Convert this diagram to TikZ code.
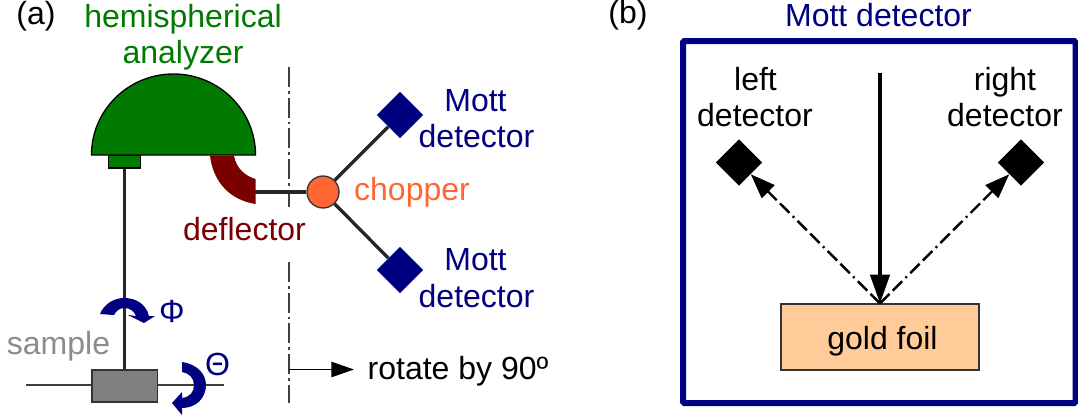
\documentclass[tikz,border=0pt]{standalone}
\usepackage{fontspec}
\setmainfont{Liberation Sans}
\usetikzlibrary{arrows.meta,shapes.geometric}
\definecolor{analyzergreen}{RGB}{0,122,0}
\definecolor{deflectorred}{RGB}{122,0,0}
\definecolor{mottblue}{RGB}{0,0,128}
\definecolor{chopperorange}{RGB}{255,102,51}
\definecolor{foilorange}{RGB}{255,204,153}
\begin{document}
\begin{tikzpicture}[x=0.75pt,y=-0.75pt,every node/.style={font=\fontsize{24}{28}\selectfont,inner sep=0pt},
label node/.style={anchor=base},
rod/.style={line width=2.5pt,draw=black!85},
axis/.style={line width=1.2pt,draw=black!75,dash pattern=on 15pt off 3pt on 2pt off 3pt},
mott node/.style={diamond,fill=mottblue,minimum size=35pt},
black node/.style={diamond,fill=black,minimum size=35pt},
scatter/.style={line width=1.8pt,dash pattern=on 10pt off 3.5pt on 10pt off 3.5pt on 1.5pt off 3.5pt,-{Triangle[length=18.5pt,width=13.5pt]}}]
\useasboundingbox (0,0) rectangle (1078,415);
% panel a
\coordinate (top) at (289,67);
\coordinate (gapa) at (289,207);
\coordinate (gapb) at (289,262);
\coordinate (bottom) at (289,403);
\coordinate (defl) at (255,192);
\coordinate (axisl) at (26,385);
\coordinate (axisr) at (224,385);
\coordinate (rotl) at (289,369.5);
\coordinate (rotr) at (354,369.5);
\draw[axis] (top) -- (gapa);
\draw[axis] (gapb) -- (bottom);
\draw[line width=1.2pt,draw=black!75] (axisl) -- (axisr);
\node[fill=black!50,draw=black!80,line width=1pt,minimum width=49pt,minimum height=24pt] (samplebox) at (124.5,386) {};
\filldraw[fill=analyzergreen,draw=black,line width=1pt] (91.5,155) arc (180:360:82 and 81) -- cycle;
\node[fill=analyzergreen,draw=black,line width=1pt,minimum width=24pt,minimum height=9.5pt] (slit) at (124.5,161.5) {};
\fill[deflectorred] (210,155.5) -- (234,155.5) .. controls (236,168) and (245,176) .. (255.5,179) -- (255.5,204) .. controls (230,200) and (213,182) .. cycle;
\node[circle,fill=chopperorange,draw=black!80,line width=1pt,minimum size=24pt] (chopper) at (323,192) {};
\node[mott node] (motttop) at (400,115) {};
\node[mott node] (mottbot) at (400,270) {};
\draw[rod] (slit) -- (samplebox);
\draw[rod] (defl) -- (chopper);
\draw[rod] (chopper) -- (motttop);
\draw[rod] (chopper) -- (mottbot);
\draw[-{Triangle[length=17pt,width=11.5pt]},line width=1.2pt] (rotl) -- (rotr);
\fill[mottblue] (100,314) .. controls (104,304) and (114,298) .. (124,298) .. controls (136,298) and (146,304) .. (149,316) -- (155,316) -- (144,323) -- (128,315) -- (136,316) .. controls (134,311) and (130,308) .. (124,308) .. controls (120,308) and (116,311) .. (114,315) -- cycle;
\fill[mottblue] (182,362) .. controls (197,364) and (206,374) .. (206,385) .. controls (206,398) and (196,408) .. (182,408) -- (182,415) -- (172,403) -- (182,392) -- (182,398) .. controls (190,397) and (194,392) .. (194,385) .. controls (194,378) and (189,373) .. (182,372) -- cycle;
\node[label node] (labela) at (36,24) {(a)};
\node[label node,text=analyzergreen] (hemi) at (183,27.5) {hemispherical};
\node[label node,text=analyzergreen] (analyzer) at (183,63.5) {analyzer};
\node[label node,text=mottblue] (motta) at (475.5,111) {Mott};
\node[label node,text=mottblue] (deta) at (476.5,147.5) {detector};
\node[label node,text=mottblue] (mottb) at (475.5,270.5) {Mott};
\node[label node,text=mottblue] (detb) at (476.5,307) {detector};
\node[label node,text=chopperorange] (chop) at (412,200) {chopper};
\node[label node,text=deflectorred] (deflector) at (244.5,240.5) {deflector};
\node[label node,text=black!45] (sample) at (58.5,354) {sample};
\node[label node,text=mottblue] (phi) at (172,322) {Φ};
\node[label node,text=mottblue] (theta) at (217.5,375) {Θ};
\node[label node] (rotate) at (458,379) {rotate by 90º};
% panel b
\node[label node] (labelb) at (628,23.5) {(b)};
\node[label node,text=mottblue] (motttitle) at (878.5,26) {Mott detector};
\draw[draw=mottblue,line width=4.5pt,rounded corners=1pt] (683,41) rectangle (1075.5,403);
\node[fill=foilorange,draw=black!80,line width=1pt,minimum width=148.5pt,minimum height=49.5pt] (foil) at (880,337) {};
\node[label node] (foiltext) at (882.5,349) {gold foil};
\node[black node] (detleft) at (739,162.5) {};
\node[black node] (detright) at (1021,162.5) {};
\coordinate (beam) at (880,72.5);
\draw[line width=2.5pt,-{Triangle[length=21.5pt,width=14.5pt]}] (beam) -- (foil.north);
\draw[scatter] (foil.north) -- (detleft);
\draw[scatter] (foil.north) -- (detright);
\node[label node] (lefta) at (755.5,90) {left};
\node[label node] (leftb) at (755,126.5) {detector};
\node[label node] (righta) at (1005,90) {right};
\node[label node] (rightb) at (1005,126.5) {detector};
\end{tikzpicture}
\end{document}
